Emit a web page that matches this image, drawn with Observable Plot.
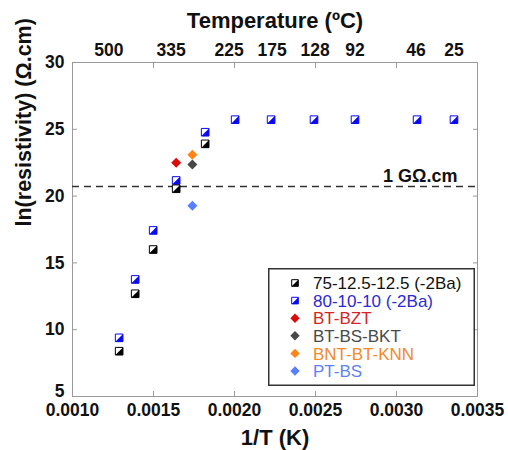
<!DOCTYPE html>
<html>
<head>
<meta charset="utf-8">
<script src="https://cdn.jsdelivr.net/npm/d3@7"></script>
<script src="https://cdn.jsdelivr.net/npm/@observablehq/plot@0.6"></script>
<style>
  body { margin: 0; background: #fff; }
  #wrap { position: relative; width: 508px; height: 450px; }
  #legend { position: absolute; left: 268px; top: 268px; }
</style>
</head>
<body>
<div id="wrap"></div>
<script>
// ---- data ----
const invT75 = [0.001288, 0.001387, 0.001498, 0.001640, 0.001819];
const lnR75  = [8.39, 12.69, 16.0, 20.55, 23.91];

const invT80 = [0.001288, 0.001387, 0.001498, 0.001640, 0.001819, 0.002004, 0.002226, 0.002491, 0.002744, 0.003127, 0.003355];
const lnR80  = [9.39, 13.76, 17.43, 21.17, 24.78, 25.72, 25.72, 25.72, 25.72, 25.72, 25.72];

const otherNames = ["BT-BZT", "BT-BS-BKT", "BNT-BT-KNN", "PT-BS"];
const otherInvT  = [0.001640, 0.001740, 0.001740, 0.001740];
const otherLnR   = [22.49, 22.37, 23.09, 19.27];
const otherColors = ["#dd0a0a", "#474747", "#ff8415", "#5680ff"];

const xTicks = [0.0010, 0.0015, 0.0020, 0.0025, 0.0030, 0.0035];
const yTicks = [5, 10, 15, 20, 25, 30];
const tempLabels = ["500", "335", "225", "175", "128", "92", "46", "25"];
const tempTickInvT = [0.001225, 0.001609, 0.001967, 0.002232, 0.002497, 0.002744, 0.003120, 0.003355];

const gOhmLine = 20.72; // ln(1e9)

const legendNames = ["75-12.5-12.5 (-2Ba)", "80-10-10 (-2Ba)", ...otherNames];
const legendColors = ["#111111", "#2a2ad6", "#d62424", "#4a4a4a", "#f28a2a", "#5f83f5"];
const squareColors = ["#000000", "#0a0af0"];

// ---- symbols ----
const halfTri = {
  draw(ctx, size) {
    const s = Math.sqrt(size) / 2;
    ctx.moveTo(s, -s); ctx.lineTo(s, s); ctx.lineTo(-s, s); ctx.closePath();
  }
};
const diamond = {
  draw(ctx, size) {
    const r = Math.sqrt(size / 2);
    ctx.moveTo(0, -r); ctx.lineTo(r, 0); ctx.lineTo(0, r); ctx.lineTo(-r, 0); ctx.closePath();
  }
};

const d75 = invT75.map((x, i) => ({x, y: lnR75[i]}));
const d80 = invT80.map((x, i) => ({x, y: lnR80[i]}));
const dOther = otherNames.map((name, i) => ({name, x: otherInvT[i], y: otherLnR[i], c: otherColors[i]}));
const tempMap = new Map(tempTickInvT.map((t, i) => [t, tempLabels[i]]));

const font = "'Liberation Sans', Arial, sans-serif";
const frameColor = "#9a9a9a";
const sqR = 4.3;

const chart = Plot.plot({
  width: 508,
  height: 450,
  marginLeft: 72,
  marginRight: 31,
  marginTop: 62,
  marginBottom: 54,
  style: {fontFamily: font, fontSize: "17.5px", fontWeight: "bold", color: "#111", background: "#fff"},
  x: {domain: [0.001, 0.0035]},
  y: {domain: [5, 30]},
  marks: [
    Plot.frame({stroke: frameColor}),
    // inward tick marks
    Plot.axisX({anchor: "bottom", ticks: xTicks, tickSize: 5, dy: -5, tickFormat: () => "", label: null, stroke: frameColor}),
    Plot.axisX({anchor: "top", ticks: xTicks, tickSize: 5, dy: 5, tickFormat: () => "", label: null, stroke: frameColor}),
    Plot.axisY({anchor: "left", ticks: yTicks, tickSize: 5, dx: 5, tickFormat: () => "", label: null, stroke: frameColor}),
    Plot.axisY({anchor: "right", ticks: yTicks, tickSize: 5, dx: -5, tickFormat: () => "", label: null, stroke: frameColor}),
    // tick labels
    Plot.axisX({anchor: "bottom", ticks: xTicks, tickSize: 0, tickPadding: 7, tickFormat: d3.format(".4f"), label: null}),
    Plot.axisX({anchor: "top", ticks: tempTickInvT, tickSize: 0, tickPadding: 7, tickFormat: d => tempMap.get(d), label: null}),
    Plot.axisY({anchor: "left", ticks: yTicks.slice(1), tickSize: 0, tickPadding: 8, label: null}),
    Plot.axisY({anchor: "left", ticks: yTicks.slice(0, 1), tickSize: 0, tickPadding: 8, dy: -5, label: null}),
    // titles
    Plot.text(["Temperature (ºC)"], {frameAnchor: "top", text: d => d, dy: -42, lineAnchor: "middle", fontSize: 22, fontWeight: "bold"}),
    Plot.text(["1/T (K)"], {frameAnchor: "bottom", text: d => d, dy: 41, lineAnchor: "middle", fontSize: 22, fontWeight: "bold"}),
    Plot.text(["ln(resistivity) (Ω.cm)"], {frameAnchor: "left", text: d => d, rotate: -90, dx: -48, dy: -3, lineAnchor: "middle", fontSize: 21.5, fontWeight: "bold"}),
    // 1 GΩ.cm reference line
    Plot.ruleY([gOhmLine], {stroke: "#333", strokeWidth: 1.5, strokeDasharray: "7,5"}),
    Plot.text(["1 GΩ.cm"], {frameAnchor: "right", y: () => gOhmLine, text: d => d, textAnchor: "end", lineAnchor: "bottom", dx: -20, dy: -4, fontSize: 18, fontWeight: "bold"}),
    // series
    Plot.dot(d80, {x: "x", y: "y", symbol: "square", r: sqR, fill: "white", stroke: squareColors[1], strokeWidth: 1}),
    Plot.dot(d80, {x: "x", y: "y", symbol: halfTri, r: sqR, fill: squareColors[1]}),
    Plot.dot(d75, {x: "x", y: "y", symbol: "square", r: sqR, fill: "white", stroke: squareColors[0], strokeWidth: 1}),
    Plot.dot(d75, {x: "x", y: "y", symbol: halfTri, r: sqR, fill: squareColors[0]}),
    Plot.dot(dOther, {x: "x", y: "y", symbol: diamond, r: 4, fill: "c"})
  ]
});

const wrap = document.getElementById("wrap");
wrap.appendChild(chart);

// ---- legend (overlay inside plot area) ----
const lw = 207, lh = 118;
const leg = d3.select(wrap).append("svg")
  .attr("id", "legend").attr("width", lw).attr("height", lh)
  .style("font-family", font).style("font-size", "17px");
leg.append("rect").attr("x", 0.75).attr("y", 0.75).attr("width", lw - 1.5).attr("height", lh - 1.5)
  .attr("fill", "white").attr("stroke", "#333").attr("stroke-width", 1.5);
const rowY = i => 15 + i * 17.6;
legendNames.forEach((name, i) => {
  const g = leg.append("g").attr("transform", `translate(27,${rowY(i)})`);
  if (i < 2) {
    g.append("path").attr("d", d3.symbol(d3.symbolSquare, 44)()).attr("fill", "white").attr("stroke", squareColors[i]);
    g.append("path").attr("d", d3.symbol(halfTri, 44)()).attr("fill", squareColors[i]);
  } else {
    g.append("path").attr("d", d3.symbol(diamond, 44)()).attr("fill", otherColors[i - 2]);
  }
  leg.append("text").attr("x", 45).attr("y", rowY(i)).attr("dy", "0.36em")
    .attr("fill", legendColors[i]).text(name);
});
</script>
</body>
</html>
